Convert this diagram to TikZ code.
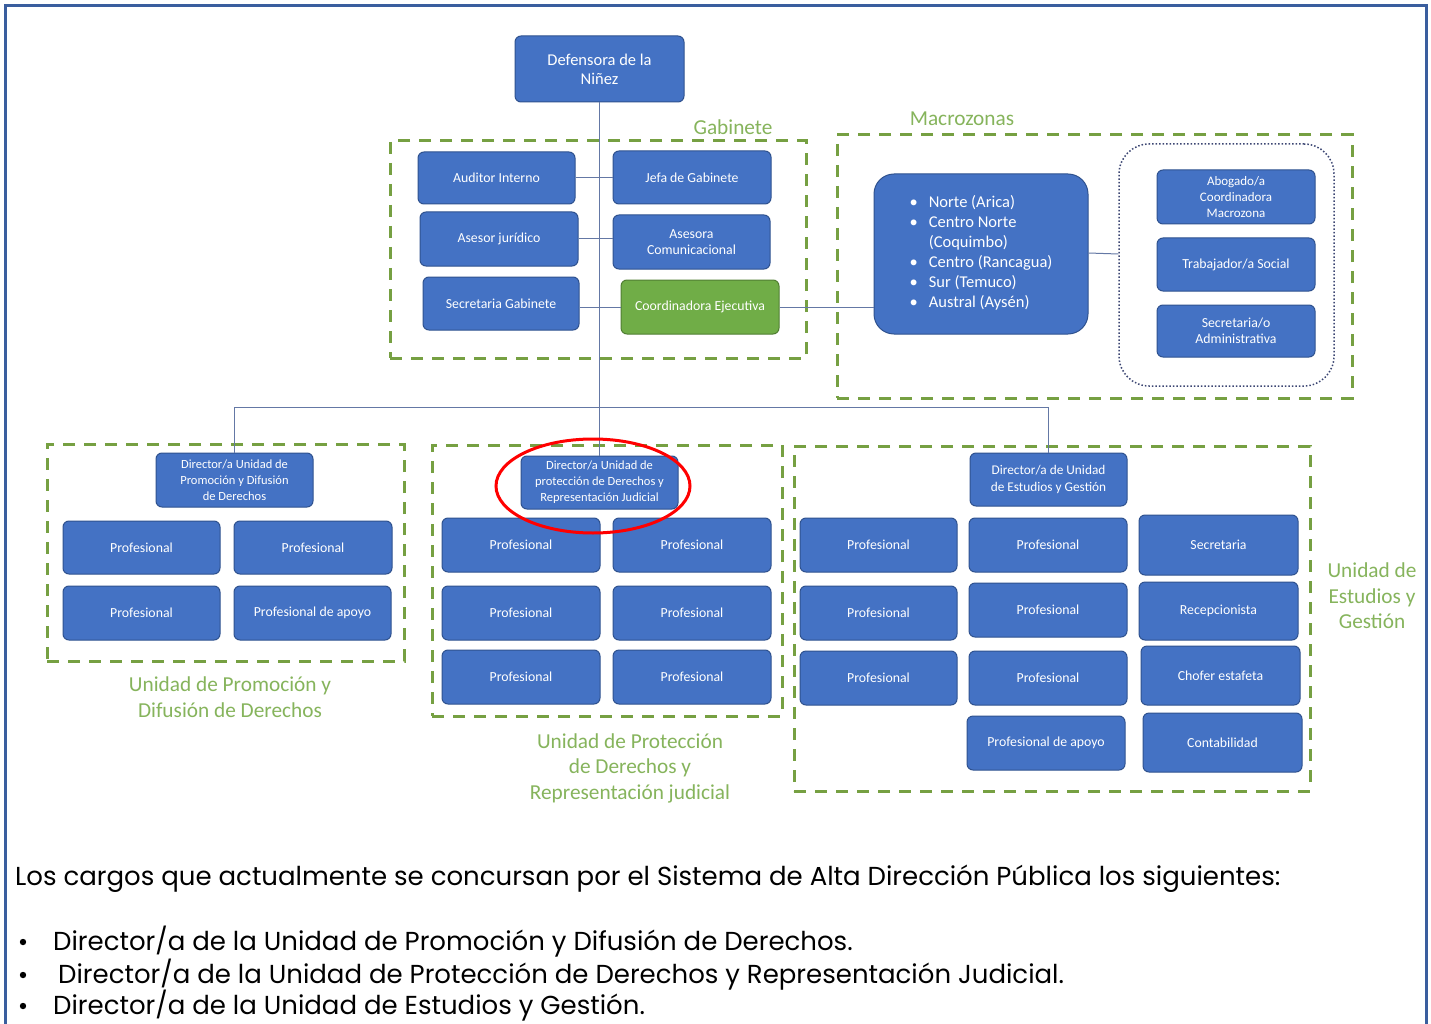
\documentclass[tikz,border=0pt]{standalone}
\usepackage{fontspec}
\setmainfont{Carlito}
\newfontfamily\carl{Carlito}
\newfontfamily\gothic{Poppins}
\definecolor{boxblue}{RGB}{68,114,196}
\definecolor{boxedge}{RGB}{47,82,143}
\definecolor{boxgreen}{RGB}{112,173,71}
\definecolor{greenedge}{RGB}{80,126,50}
\definecolor{grpgreen}{RGB}{118,160,66}
\definecolor{lblgreen}{RGB}{134,180,92}
\definecolor{framecol}{RGB}{58,94,158}
\definecolor{conncol}{RGB}{100,120,165}
\definecolor{dotcol}{RGB}{60,70,115}
\newcommand\orgbox[7][]{\node[box,#1,minimum width={(#5-#3)*1pt},minimum height={(#6-#4)*1pt}] (#2) at ({(#3+#5)/2},{(#4+#6)/2}) {#7};}
\newcommand\grpbox[6][]{\node[grp,#1,minimum width={(#5-#3)*1pt},minimum height={(#6-#4)*1pt}] (#2) at ({(#3+#5)/2},{(#4+#6)/2}) {};}
\begin{document}
\begin{tikzpicture}[x=1pt,y=-1pt,
  box/.style={draw=boxedge,fill=boxblue,rounded corners=6pt,line width=1pt,text=white,
    font={\carl\fontsize{13.8}{16}\selectfont},align=center,inner sep=2pt},
  gbox/.style={box,fill=boxgreen,draw=greenedge},
  small/.style={font={\carl\fontsize{12.5}{16}\selectfont}},
  grp/.style={draw=grpgreen,line width=3pt,dash pattern=on 12pt off 9pt,inner sep=0pt},
  lbl/.style={text=lblgreen,font={\carl\fontsize{21.3}{25.5}\selectfont},align=center,inner sep=0pt},
  conn/.style={draw=conncol,line width=1pt},
  bodytext/.style={font={\gothic\fontsize{26}{30}\selectfont},anchor=west,inner sep=0pt,text=black}]
\useasboundingbox (0,0) rectangle (1431,1024);
\fill[white] (0,0) rectangle (1431,1024);
% frame
\draw[framecol,line width=3pt] (5,1026) -- (5,6) -- (1426,6) -- (1426,1026);

% group frames
\grpbox{gab}{390}{141}{806}{358}
\grpbox{mz}{837}{135}{1352}{398}
\grpbox{gprom}{47}{444}{404}{661}
\grpbox{gprot}{432}{445}{782}{716}
\grpbox{gest}{794}{446}{1310}{791}

% labels
\node[lbl] (lgab) at (733,127) {Gabinete};
\node[lbl] (lmz) at (962,119) {Macrozonas};
\node[lbl] (lprom) at (230,697) {Unidad de Promoción y\\Difusión de Derechos};
\node[lbl] (lprot) at (630,768) {Unidad de Protección\\de Derechos y\\Representación judicial};
\node[lbl] (lest) at (1372,596) {Unidad de\\Estudios y\\Gestión};

% top
\orgbox[font={\carl\fontsize{16.5}{19}\selectfont}]{def}{515}{36}{684}{102}{Defensora de la\\Niñez}

% gabinete
\orgbox{aud}{418}{152}{575}{204}{Auditor Interno}
\orgbox{jefa}{613}{151}{771}{204}{Jefa de Gabinete}
\orgbox{asj}{420}{212}{578}{266}{Asesor jurídico}
\orgbox{asc}{613}{215}{770}{269}{Asesora\\Comunicacional}
\orgbox{secg}{423}{277}{579}{330}{Secretaria Gabinete}
\orgbox[gbox]{coord}{621}{280}{779}{334}{Coordinadora Ejecutiva}

% macrozonas
\orgbox[rounded corners=20pt,font={\carl\fontsize{16.5}{20}\selectfont}]{zonas}{874}{174}{1088}{334}{%
\begin{tabular}{@{}l@{\hspace{11pt}}l@{}}
•&Norte (Arica)\\
•&Centro Norte\\
&(Coquimbo)\\
•&Centro (Rancagua)\\
•&Sur (Temuco)\\
•&Austral (Aysén)
\end{tabular}}
\node[draw=dotcol,line width=1.5pt,dotted,rounded corners=30pt,minimum width=215pt,minimum height=242pt,inner sep=0pt] (mzgrp) at (1226.5,265) {};
\orgbox[font={\carl\fontsize{13}{16}\selectfont}]{abog}{1157}{170}{1315}{224}{Abogado/a\\Coordinadora\\Macrozona}
\orgbox{trab}{1157}{238}{1315}{291}{Trabajador/a Social}
\orgbox{secadm}{1157}{305}{1315}{357}{Secretaria/o\\Administrativa}

% promocion
\orgbox[small]{dprom}{156}{453}{313}{507}{Director/a Unidad de\\Promoción y Difusión\\de Derechos}
\orgbox{pr1}{63}{521}{220}{574}{Profesional}
\orgbox{pr2}{234}{521}{392}{574}{Profesional}
\orgbox{pr3}{63}{586}{220}{640}{Profesional}
\orgbox{pr4}{234}{586}{391}{640}{Profesional de apoyo}

% proteccion
\orgbox[small]{dprot}{521}{456}{678}{509}{Director/a Unidad de\\protección de Derechos y\\Representación Judicial}
\orgbox{pt1}{442}{518}{600}{572}{Profesional}
\orgbox{pt2}{613}{518}{771}{572}{Profesional}
\orgbox{pt3}{442}{586}{600}{640}{Profesional}
\orgbox{pt4}{613}{586}{771}{640}{Profesional}
\orgbox{pt5}{442}{650}{600}{704}{Profesional}
\orgbox{pt6}{613}{650}{771}{704}{Profesional}

% estudios
\orgbox[font={\carl\fontsize{13.3}{16.5}\selectfont}]{dest}{970}{453}{1127}{506}{Director/a de Unidad\\de Estudios y Gestión}
\orgbox{es1}{800}{518}{957}{572}{Profesional}
\orgbox{es2}{800}{586}{957}{640}{Profesional}
\orgbox{es3}{800}{651}{957}{705}{Profesional}
\orgbox{es4}{969}{518}{1127}{572}{Profesional}
\orgbox{es5}{969}{583}{1127}{637}{Profesional}
\orgbox{es6}{969}{651}{1127}{705}{Profesional}
\orgbox{es7}{967}{716}{1125}{770}{Profesional de apoyo}
\orgbox{es8}{1139}{515}{1298}{575}{Secretaria}
\orgbox{es9}{1139}{582}{1298}{640}{Recepcionista}
\orgbox{es10}{1141}{646}{1300}{705}{Chofer estafeta}
\orgbox{es11}{1143}{713}{1302}{772}{Contabilidad}

% connectors
\coordinate (j) at (600,407);
\draw[conn] (def.south) -- (dprot.north);
\draw[conn] (aud.east) -- (aud.east -| jefa.west);
\draw[conn] (asj.east) -- (asj.east -| asc.west);
\draw[conn] (coord.west -| secg.east) -- (coord.west);
\draw[conn] (coord.east) -- (coord.east -| zonas.west);
\draw[conn] (zonas.east) ++(0,-1) -- (zonas.east -| mzgrp.west);
\draw[conn] (dprom.north) -- (dprom.north |- j) -- (dest.north |- j) -- (dest.north);

% red ring
\draw[red,line width=3pt] (593,486) ellipse [x radius=97, y radius=47];

% text
\node[bodytext] (intro) at (15,879) {Los cargos que actualmente se concursan por el Sistema de Alta Dirección Pública los siguientes:};
\node[bodytext] (b1) at (53,942) {Director/a de la Unidad de Promoción y Difusión de Derechos.};
\node[bodytext] (b2) at (58,975) {Director/a de la Unidad de Protección de Derechos y Representación Judicial.};
\node[bodytext] (b3) at (53,1006) {Director/a de la Unidad de Estudios y Gestión.};
\foreach \n in {b1,b2,b3} \fill (23,0 |- \n.west) circle (3.2);
\end{tikzpicture}
\end{document}
